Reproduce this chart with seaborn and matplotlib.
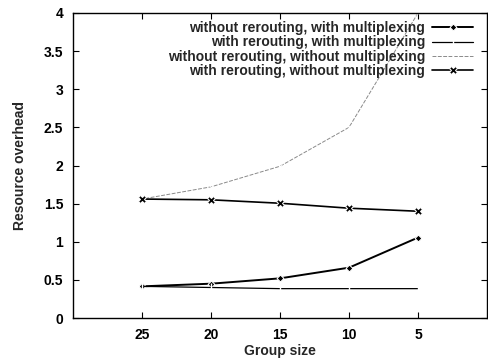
import matplotlib
matplotlib.use("Agg")
import matplotlib.pyplot as plt
import seaborn as sns
import pandas as pd

group_size = [25, 20, 15, 10, 5]
no_reroute_mux = [0.415, 0.45, 0.52, 0.66, 1.055]
reroute_mux = [0.415, 0.40, 0.385, 0.385, 0.385]
no_reroute_no_mux = [1.56, 1.72, 1.99, 2.50, 4.0]
reroute_no_mux = [1.56, 1.55, 1.505, 1.44, 1.40]

labels = [
    "without rerouting, with multiplexing",
    "with rerouting, with multiplexing",
    "without rerouting, without multiplexing",
    "with rerouting, without multiplexing",
]
series = [no_reroute_mux, reroute_mux, no_reroute_no_mux, reroute_no_mux]

rows = []
for lab, vals in zip(labels, series):
    for g, v in zip(group_size, vals):
        rows.append({"Group size": g, "Resource overhead": v, "series": lab})
df = pd.DataFrame(rows)

sns.set_theme(style="ticks")
plt.rcParams["font.family"] = ["Liberation Sans", "DejaVu Sans"]
plt.rcParams["font.weight"] = "bold"

FS = 10

fig = plt.figure(figsize=(4.88, 3.6), dpi=100)
ax = fig.add_axes([73 / 488, 42 / 360, 414 / 488, 305 / 360])

styles = {
    labels[0]: dict(color="black", marker="D", markersize=3.5, linewidth=1.4, linestyle="-"),
    labels[1]: dict(color="black", marker="|", markersize=7, markeredgewidth=1.0, linewidth=0.9, linestyle="-"),
    labels[2]: dict(color="#8a8a8a", marker="x", markersize=3, markeredgewidth=0.6, linewidth=0.7, linestyle=(0, (4, 1.5))),
    labels[3]: dict(color="black", marker="X", markersize=5.5, linewidth=1.2, linestyle="-"),
}

for lab in labels:
    sub = df[df["series"] == lab]
    sns.lineplot(data=sub, x="Group size", y="Resource overhead", ax=ax,
                 label=lab, **styles[lab])

ax.set_xlim(30, 0)
ax.set_ylim(0, 4)
ax.set_xticks(group_size)
ax.set_xticklabels([str(g) for g in group_size])
ax.set_yticks([0, 0.5, 1, 1.5, 2, 2.5, 3, 3.5, 4])
ax.set_yticklabels(["0", "0.5", "1", "1.5", "2", "2.5", "3", "3.5", "4"])
ax.tick_params(direction="in", top=True, right=True, length=4, width=0.8,
               labelsize=FS, pad=7, colors="black")
for t in ax.get_xticklabels() + ax.get_yticklabels():
    t.set_fontweight("bold")
for sp in ax.spines.values():
    sp.set_linewidth(1.0)
    sp.set_color("black")

ax.set_xlabel("Group size", fontsize=FS, fontweight="bold", labelpad=2)
ax.set_ylabel("Resource overhead", fontsize=FS, fontweight="bold", labelpad=12)

ax.legend(loc="upper right", bbox_to_anchor=(0.98, 0.992), frameon=False,
          markerfirst=False, prop={"weight": "bold", "size": FS},
          handlelength=2.95, handletextpad=0.5, labelspacing=0.03,
          borderaxespad=0.0)

fig.savefig("out.png", dpi=100)
